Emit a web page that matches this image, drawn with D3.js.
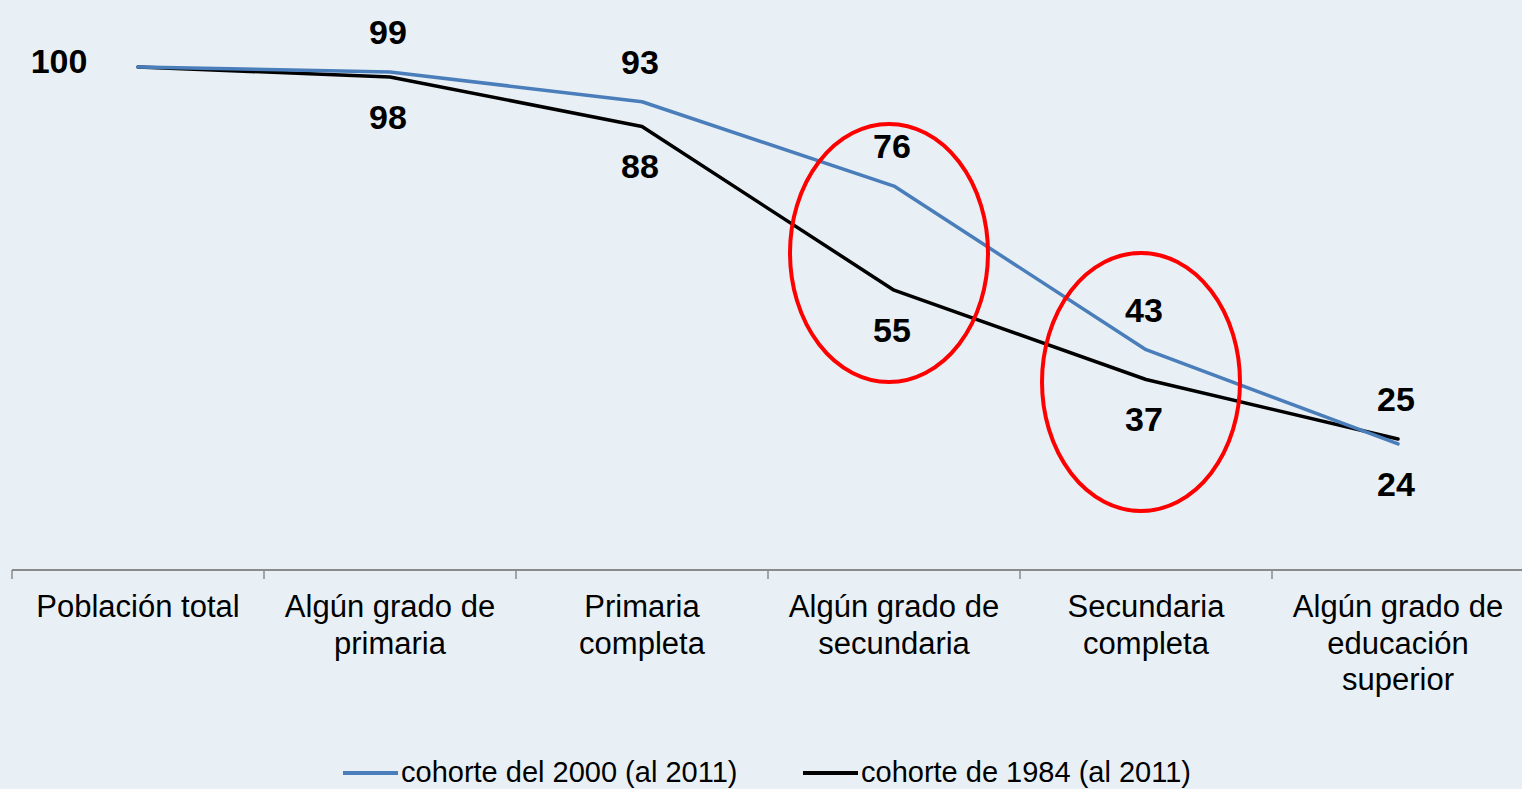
<!DOCTYPE html>
<html>
<head>
<meta charset="utf-8">
<script src="https://cdn.jsdelivr.net/npm/d3@7"></script>
<style>
	html, body { margin: 0; padding: 0; background: #e7eff4; }
	svg { display: block; font-family: "Liberation Sans", Arial, sans-serif; }
</style>
</head>
<body>
<div id="graphic"></div>
<script>
// categories (x axis), each label split into its lines
const categories = [
	["Población total"],
	["Algún grado de", "primaria"],
	["Primaria", "completa"],
	["Algún grado de", "secundaria"],
	["Secundaria", "completa"],
	["Algún grado de", "educación", "superior"]
];

const seriesNames = ["cohorte del 2000 (al 2011)", "cohorte de 1984 (al 2011)"];
const cohorte2000 = [100, 99, 93, 76, 43, 24];
const cohorte1984 = [100, 98, 88, 55, 37, 25];
const colours = ["#4a7ebb", "#000000"];

// red ellipses: category index and centre value
const highlights = [
	{ cat: 3, value: 62.5 },
	{ cat: 4, value: 36.5 }
];

const width = 1522, height = 789;
let graphic = d3.select('#graphic');

let svg = graphic.append('svg')
	.attr('width', width)
	.attr('height', height);

//light textured background
let defs = svg.append('defs');
let filter = defs.append('filter')
	.attr('id', 'paper')
	.attr('x', 0).attr('y', 0)
	.attr('width', '100%').attr('height', '100%');
filter.append('feTurbulence')
	.attr('type', 'fractalNoise')
	.attr('baseFrequency', '0.012 0.05')
	.attr('numOctaves', 3)
	.attr('seed', 4);
filter.append('feColorMatrix')
	.attr('values', '0 0 0 0 0.80  0 0 0 0 0.87  0 0 0 0 0.92  0 0 0 0.45 -0.05');

svg.append('rect')
	.attr('width', width)
	.attr('height', height)
	.attr('fill', '#e8f0f5');

svg.append('rect')
	.attr('width', width)
	.attr('height', height)
	.attr('filter', 'url(#paper)');

//set up scales
const x = d3.scaleBand()
	.domain(d3.range(categories.length))
	.range([12, 1524])
	.padding(0);

const y = d3.scaleLinear()
	.domain([0, 100])
	.range([563, 67]);

const xc = (i) => x(i) + x.bandwidth() / 2;

//x axis
const axisY = 570;
let xAxis = svg.append('g')
	.attr('transform', 'translate(0,' + axisY + ')');

xAxis.append('line')
	.attr('x1', x.range()[0])
	.attr('x2', width)
	.attr('stroke', '#8a8a8a')
	.attr('stroke-width', 2);

xAxis.selectAll('line.tick')
	.data(d3.range(categories.length))
	.join('line')
	.attr('class', 'tick')
	.attr('x1', (d) => x(d))
	.attr('x2', (d) => x(d))
	.attr('y1', 0)
	.attr('y2', 9)
	.attr('stroke', '#8a8a8a')
	.attr('stroke-width', 1.5);

xAxis.selectAll('text.cat')
	.data(categories)
	.join('text')
	.attr('class', 'cat')
	.attr('text-anchor', 'middle')
	.attr('font-size', 31)
	.attr('fill', '#000')
	.each(function (d, i) {
		d3.select(this).selectAll('tspan')
			.data(d)
			.join('tspan')
			.attr('x', xc(i))
			.attr('y', (t, j) => 47 + j * 36.5)
			.text((t) => t);
	});

//lines
const series = [cohorte2000, cohorte1984];
const line = d3.line()
	.x((d, i) => xc(i))
	.y((d) => y(d));

// draw black first so the blue sits over it where they meet
[1, 0].forEach((s) => {
	svg.append('path')
		.datum(series[s])
		.attr('fill', 'none')
		.attr('stroke', colours[s])
		.attr('stroke-width', 3.5)
		.attr('stroke-linejoin', 'round')
		.attr('stroke-linecap', 'round')
		.attr('d', line);
});

//value labels: higher value above, lower below
const labels = svg.append('g')
	.attr('font-size', 34)
	.attr('font-weight', 'bold')
	.attr('text-anchor', 'middle')
	.attr('fill', '#000');

categories.forEach((c, i) => {
	const a = cohorte2000[i], b = cohorte1984[i];
	if (a === b) {
		labels.append('text')
			.attr('x', xc(i) - 79)
			.attr('y', y(a) - 6)
			.attr('dy', '0.35em')
			.text(a);
		return;
	}
	const hi = Math.max(a, b), lo = Math.min(a, b);
	labels.append('text')
		.attr('x', xc(i) - 2)
		.attr('y', y(hi) - 40)
		.attr('dy', '0.35em')
		.text(hi);
	labels.append('text')
		.attr('x', xc(i) - 2)
		.attr('y', y(lo) + 40)
		.attr('dy', '0.35em')
		.text(lo);
});

//red ellipses
svg.selectAll('ellipse')
	.data(highlights)
	.join('ellipse')
	.attr('cx', (d) => xc(d.cat) - 5)
	.attr('cy', (d) => y(d.value))
	.attr('rx', 99)
	.attr('ry', 129)
	.attr('fill', 'none')
	.attr('stroke', '#ff0000')
	.attr('stroke-width', 4);

//legend
const legend = svg.append('g')
	.attr('transform', 'translate(0,773)');

const legendX = [343, 803];
seriesNames.forEach((name, s) => {
	let g = legend.append('g')
		.attr('transform', 'translate(' + legendX[s] + ',0)');
	g.append('line')
		.attr('x1', 0)
		.attr('x2', 55)
		.attr('stroke', colours[s])
		.attr('stroke-width', 4);
	g.append('text')
		.attr('x', 58)
		.attr('y', 9)
		.attr('font-size', 29)
		.attr('fill', '#000')
		.text(name);
});
</script>
</body>
</html>
